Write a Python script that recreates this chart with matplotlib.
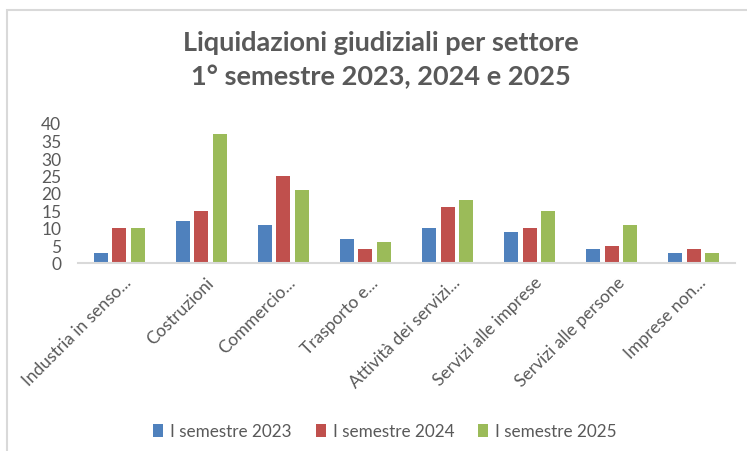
import matplotlib.pyplot as plt
import numpy as np
from matplotlib.patches import Rectangle
from matplotlib.transforms import ScaledTranslation

plt.rcParams['font.family'] = ['Lato', 'DejaVu Sans']

# categories and values
settori = ['Industria in senso...', 'Costruzioni', 'Commercio...', 'Trasporto e...',
           'Attività dei servizi...', 'Servizi alle imprese', 'Servizi alle persone', 'Imprese non...']
sem2023 = [3, 12, 11, 7, 10, 9, 4, 3]
sem2024 = [10, 15, 25, 4, 16, 10, 5, 4]
sem2025 = [10, 37, 21, 6, 18, 15, 11, 3]
serie = ['I semestre 2023', 'I semestre 2024', 'I semestre 2025']
colori = ['#4F81BD', '#C0504D', '#9BBB59']
yticks = [0, 5, 10, 15, 20, 25, 30, 35, 40]

grey = '#595959'

fig = plt.figure(figsize=(7.47, 4.52), dpi=100)
# light frame around the chart (right and bottom edges fall outside the image)
fig.patches.append(Rectangle((7/747, -0.05), 1.1, 1 - 11/452 + 0.05, transform=fig.transFigure,
                             fill=False, edgecolor='#d9d9d9', linewidth=1.5))

ax = fig.add_axes([78/747, 1 - 264/452, 657/747, 140/452])

x = np.arange(len(settori))
step = 0.225
w = 0.17
for i, (vals, lab, col) in enumerate(zip([sem2023, sem2024, sem2025], serie, colori)):
    ax.bar(x + (i - 1) * step, vals, width=w, color=col, label=lab, zorder=2)

ax.set_xlim(-0.5, len(settori) - 0.5)
ax.set_ylim(0, 40)
ax.set_yticks(yticks)
ax.set_xticks(x)
ax.set_xticklabels(settori, rotation=45, ha='right', va='center', rotation_mode='anchor')
ax.tick_params(axis='y', length=0, pad=12, labelsize=12.5, labelcolor=grey)
ax.tick_params(axis='x', length=0, pad=12, labelsize=12.5, labelcolor=grey)
offset = ScaledTranslation(0.1, 0, fig.dpi_scale_trans)
for lbl in ax.get_xticklabels():
    lbl.set_transform(lbl.get_transform() + offset)

for s in ['top', 'right', 'left']:
    ax.spines[s].set_visible(False)
ax.spines['bottom'].set_color('#d9d9d9')
ax.spines['bottom'].set_linewidth(1.5)

fig.text(381/747, 1 - 43/452, 'Liquidazioni giudiziali per settore', ha='center', va='center',
         fontsize=19.5, fontweight='bold', color=grey)
fig.text(381/747, 1 - 77/452, '1° semestre 2023, 2024 e 2025', ha='center', va='center',
         fontsize=19.5, fontweight='bold', color=grey)

fig.legend(loc='center', bbox_to_anchor=(385/747, 1 - 432/452), ncol=3, frameon=False,
           fontsize=12.3, labelcolor=grey, handlelength=0.6, handleheight=0.8,
           handletextpad=0.4, columnspacing=1.4)

fig.savefig('out.png', dpi=100)
